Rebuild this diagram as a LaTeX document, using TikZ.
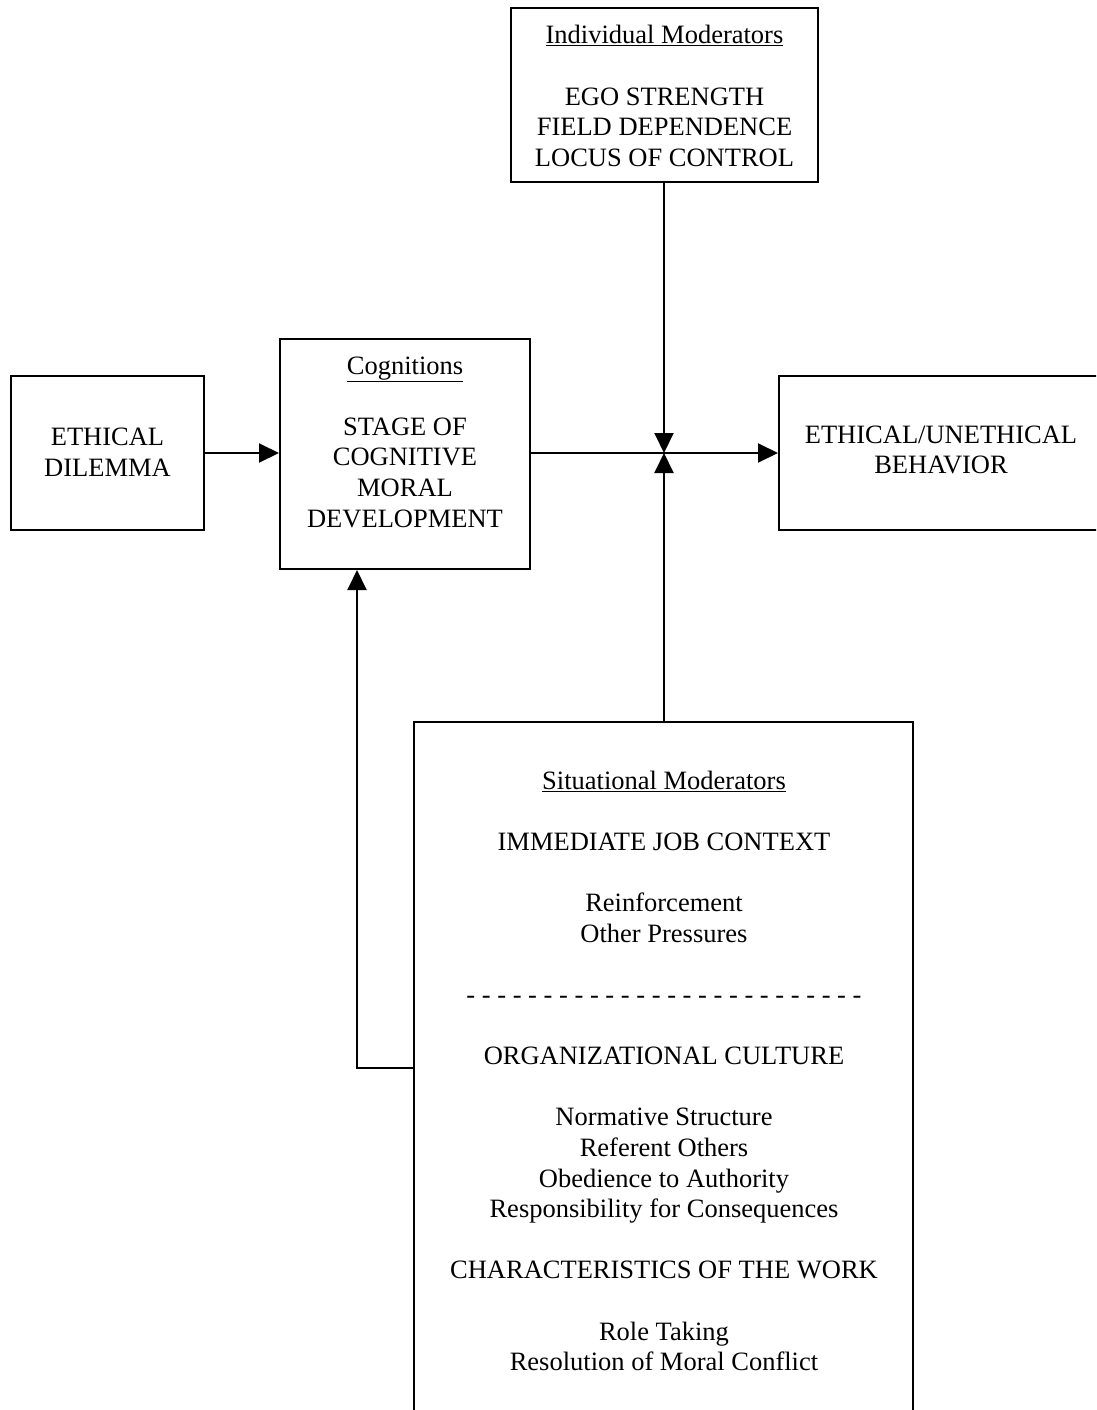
\documentclass[tikz,border=0pt]{standalone}
\usepackage{fontspec}
\setmainfont{Liberation Serif}
\usetikzlibrary{arrows.meta}
\begin{document}
\begin{tikzpicture}[x=1pt,y=-1pt,
  box/.style={draw=black,line width=2pt,inner sep=0pt,fill=none},
  txt/.style={align=center,font=\fontsize{26.5pt}{30.6pt}\selectfont,inner sep=0pt},
  arr/.style={line width=2pt,-{Triangle[length=20pt,width=19pt]}},
  ln/.style={line width=2pt}]
\useasboundingbox (0,0) rectangle (1096,1410);
\clip (0,0) rectangle (1096,1410);
% boxes
\node[box,minimum width=307pt,minimum height=174pt] (indiv) at (664.5,95) {};
\node[box,minimum width=193pt,minimum height=154pt] (dilemma) at (107.5,453) {};
\node[box,minimum width=250pt,minimum height=230pt] (cog) at (405,454) {};
\node[box,minimum width=331pt,minimum height=154pt] (behav) at (944.5,453) {};
\node[box,minimum width=499pt,minimum height=708pt] (sit) at (663.5,1076) {};
% texts
\node[txt] (indivt) at (664.5,96) {\underline{Individual Moderators}\\[30.6pt]EGO STRENGTH\\FIELD DEPENDENCE\\LOCUS OF CONTROL};
\node[txt] (dilemmat) at (107.5,452) {ETHICAL\\DILEMMA};
\node[txt] (cogt) at (405,442) {\underline{Cognitions}\\[30.6pt]STAGE OF\\COGNITIVE\\MORAL\\DEVELOPMENT};
\node[txt] (behavt) at (941,450) {ETHICAL/UNETHICAL\\BEHAVIOR};
\node[txt] (sitt) at (664,1071) {\underline{Situational Moderators}\\[30.6pt]
IMMEDIATE JOB CONTEXT\\[30.6pt]
Reinforcement\\Other Pressures\\[30.6pt]
- - - - - - - - - - - - - - - - - - - - - - - - - -\\[30.6pt]
ORGANIZATIONAL CULTURE\\[30.6pt]
Normative Structure\\Referent Others\\Obedience to Authority\\Responsibility for Consequences\\[30.6pt]
CHARACTERISTICS OF THE WORK\\[30.6pt]
Role Taking\\Resolution of Moral Conflict};
% connectors
\coordinate (j) at (664,453);
\coordinate (fb) at (357,1068);
\draw[arr] (dilemma.east |- j) -- (cog.west |- j);
\draw[arr] (cog.east |- j) -- (behav.west |- j);
\draw[arr] (indiv.south -| j) -- (j);
\draw[arr] (sit.north -| j) -- (j);
\draw[arr] (sit.west |- fb) -- (fb) -- (fb |- cog.south);
\end{tikzpicture}
\end{document}
